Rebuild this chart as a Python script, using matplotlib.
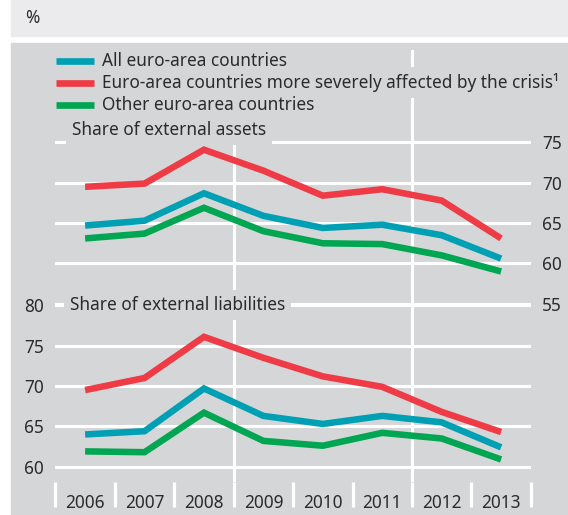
import numpy as np
import matplotlib.pyplot as plt
from matplotlib.lines import Line2D
from matplotlib.patches import Rectangle

plt.rcParams['font.family'] = ['Noto Sans', 'DejaVu Sans']

years = ['2006', '2007', '2008', '2009', '2010', '2011', '2012', '2013']

# share of external assets (right scale)
assets_all = [64.7, 65.3, 68.7, 65.9, 64.4, 64.8, 63.5, 60.6]
assets_crisis = [69.5, 69.9, 74.1, 71.5, 68.4, 69.2, 67.8, 63.1]
assets_other = [63.1, 63.7, 66.9, 64.0, 62.5, 62.4, 61.0, 59.0]

# share of external liabilities (left scale)
liab_all = [64.0, 64.4, 69.7, 66.3, 65.3, 66.3, 65.5, 62.4]
liab_crisis = [69.5, 71.0, 76.1, 73.5, 71.2, 69.9, 66.8, 64.3]
liab_other = [61.9, 61.8, 66.7, 63.2, 62.6, 64.2, 63.5, 60.9]

labels = ['All euro-area countries',
          'Euro-area countries more severely affected by the crisis\u00b9',
          'Other euro-area countries']
colors = ['#00a0b4', '#ee3b45', '#00a651']

left_ticks = [60, 65, 70, 75, 80]
right_ticks = [55, 60, 65, 70, 75]

PANEL = '#d5d6d8'
TEXT = '#2b2b2b'
FS = 12.4
W, H = 568, 515


def fx(px):
    return px / W


def fy(py):
    return 1 - py / H


def main():
    fig = plt.figure(figsize=(W / 100, H / 100), dpi=100, facecolor='white')

    # header strip and grey chart panel
    fig.patches.append(Rectangle((fx(11), fy(36)), 1, 36 / H, transform=fig.transFigure,
                                 color='#ebebed', zorder=-2))
    fig.patches.append(Rectangle((fx(11), 0), 1, fy(43), transform=fig.transFigure,
                                 color=PANEL, zorder=-2))
    fig.text(fx(25), fy(18), '%', va='center', fontsize=FS, color=TEXT)

    ax = fig.add_axes([fx(55.4), fy(482), fx(530.8) - fx(55.4), fy(50) - fy(482)])
    ax.patch.set_visible(False)
    lo = 60 - (482 - 466.7) / 8.07
    hi = 80 + (305.5 - 50) / 8.07
    ax.set_xlim(-0.5, 7.5)
    ax.set_ylim(lo, hi)

    ax2 = ax.twinx()
    ax2.set_ylim(lo - 25.2, hi - 25.2)

    for v in left_ticks:
        ax.axhline(v, color='white', lw=2.2, zorder=1)
    for v in right_ticks:
        ax2.axhline(v, color='white', lw=2.2, zorder=1)
    for v in [2.5, 5.5]:
        ax.axvline(v, color='white', lw=2.2, zorder=1)

    x = np.arange(len(years))
    style = dict(lw=4.7, solid_capstyle='butt', solid_joinstyle='miter', zorder=3)
    for vals, c in zip([assets_all, assets_crisis, assets_other], colors):
        ax2.plot(x, vals, color=c, **style)
    for vals, c in zip([liab_all, liab_crisis, liab_other], colors):
        ax2.plot(x, np.array(vals) - 25.2, color=c, **style)

    for a in (ax, ax2):
        for s in a.spines.values():
            s.set_visible(False)

    ax.set_xticks(x, years)
    ax.set_xticks(np.arange(-0.5, 8, 1), minor=True)
    ax.tick_params(axis='x', which='major', length=0, pad=9, labelsize=FS, labelcolor=TEXT)
    ax.tick_params(axis='x', which='minor', length=18, width=2.3, color='white')
    ax.set_yticks(left_ticks)
    ax.tick_params(axis='y', length=0, pad=8.5, labelsize=FS, labelcolor=TEXT)
    ax2.set_yticks(right_ticks)
    ax2.tick_params(axis='y', length=0, pad=8, labelsize=FS, labelcolor=TEXT)

    box = dict(facecolor=PANEL, edgecolor='none', boxstyle='square,pad=0.35')

    # legend
    for i, (lab, c) in enumerate(zip(labels, colors)):
        yy = fy(60.5 + 22 * i)
        fig.add_artist(Line2D([fx(56), fx(94)], [yy, yy], color=c, lw=4.8,
                              solid_capstyle='butt', transform=fig.transFigure, zorder=5))
        fig.text(fx(102), yy, lab, va='center', ha='left', fontsize=FS, color=TEXT,
                 bbox=box, zorder=4)

    fig.text(fx(72), fy(130), 'Share of external assets', va='center', ha='left',
             fontsize=FS, color=TEXT, bbox=box, zorder=4)
    fig.text(fx(70), fy(305), 'Share of external liabilities', va='center', ha='left',
             fontsize=FS, color=TEXT, bbox=box, zorder=4)

    fig.savefig('out.png', dpi=100)


if __name__ == '__main__':
    main()
